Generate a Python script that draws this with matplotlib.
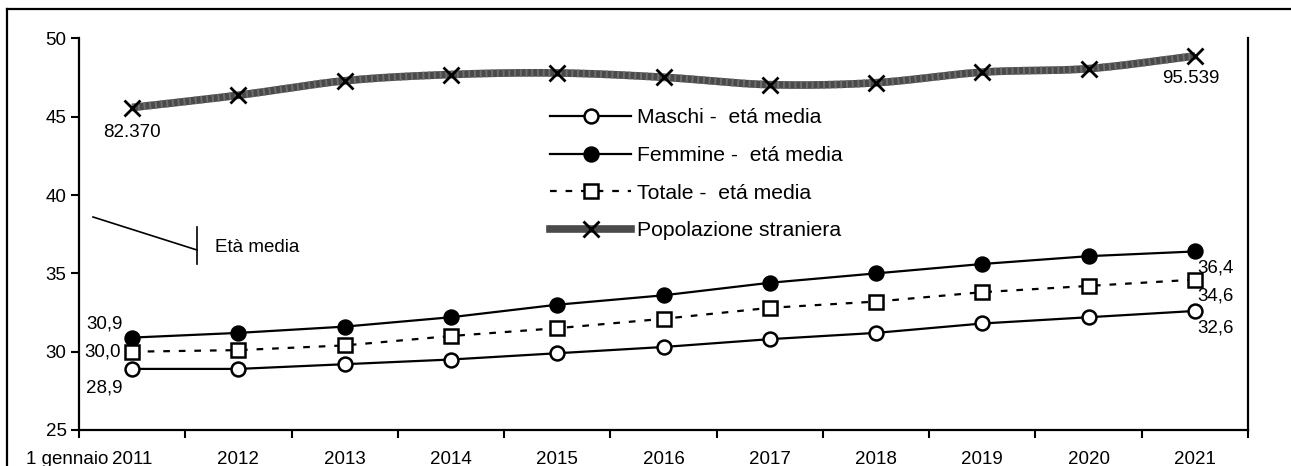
import matplotlib.pyplot as plt
import numpy as np
from matplotlib.lines import Line2D

plt.rcParams['font.family'] = ['Liberation Sans', 'DejaVu Sans']

anni = ['2011', '2012', '2013', '2014', '2015', '2016', '2017', '2018', '2019', '2020', '2021']
maschi = [28.9, 28.9, 29.2, 29.5, 29.9, 30.3, 30.8, 31.2, 31.8, 32.2, 32.6]
femmine = [30.9, 31.2, 31.6, 32.2, 33.0, 33.6, 34.4, 35.0, 35.6, 36.1, 36.4]
totale = [30.0, 30.1, 30.4, 31.0, 31.5, 32.1, 32.8, 33.2, 33.8, 34.2, 34.6]
stranieri = [82370, 85500, 89200, 90800, 91200, 90100, 88200, 88700, 91400, 92300, 95539]


def smooth(x, y, n=20):
    # Catmull-Rom curve through the points, like a smoothed spreadsheet line
    x = np.asarray(x, float)
    y = np.asarray(y, float)
    px = np.concatenate([[2 * x[0] - x[1]], x, [2 * x[-1] - x[-2]]])
    py = np.concatenate([[2 * y[0] - y[1]], y, [2 * y[-1] - y[-2]]])
    t = np.linspace(0, 1, n)
    xs, ys = [], []
    for i in range(1, len(px) - 2):
        for p, out in ((px, xs), (py, ys)):
            p0, p1, p2, p3 = p[i - 1], p[i], p[i + 1], p[i + 2]
            out.extend(0.5 * (2 * p1 + (-p0 + p2) * t + (2 * p0 - 5 * p1 + 4 * p2 - p3) * t ** 2
                              + (-p0 + 3 * p1 - 3 * p2 + p3) * t ** 3))
    return np.array(xs), np.array(ys)


fmt = lambda v: f'{v:.1f}'.replace('.', ',')
fmt_pop = lambda v: f'{v:,}'.replace(',', '.')
fs = 13.5

fig = plt.figure(figsize=(12.91, 4.66), dpi=100)
ax = fig.add_axes([0.0612, 0.0773, 0.9055, 0.8401])
ax2 = ax.twinx()
x = np.arange(len(anni))

ax.plot(x, maschi, color='black', lw=1.6, marker='o', ms=10, mfc='white', mec='black', mew=1.8,
        label='Maschi -  etá media', zorder=4)
ax.plot(x, femmine, color='black', lw=1.6, marker='o', ms=10, mfc='black', mec='black', mew=1.8,
        label='Femmine -  etá media', zorder=4)
ax.plot(x, totale, color='black', lw=1.6, ls=(0, (3, 4)), marker='s', ms=10, mfc='white', mec='black',
        mew=1.8, label='Totale -  etá media', zorder=4)

# population on the hidden secondary scale
sx, sy = smooth(x, stranieri)
ax2.plot(sx, sy, color='#4a4a4a', lw=5.5, solid_capstyle='butt', zorder=2)
ax2.plot(sx, sy, color='#6e6e6e', lw=5.5, ls=(0, (0.25, 0.5)), solid_capstyle='butt', zorder=2)
ax2.plot(x, stranieri, ls='none', marker='x', ms=12, mec='black', mew=2, zorder=3)

ax2.annotate(fmt_pop(stranieri[0]), (x[0], stranieri[0]), xytext=(0, -18), textcoords='offset points',
             ha='center', va='center', fontsize=fs)
ax2.annotate(fmt_pop(stranieri[-1]), (x[-1], stranieri[-1]), xytext=(-3, -16), textcoords='offset points',
             ha='center', va='center', fontsize=fs)

ax.annotate(fmt(femmine[0]), (x[0], femmine[0]), xytext=(-7, 10), textcoords='offset points',
            ha='right', va='center', fontsize=fs)
ax.annotate(fmt(totale[0]), (x[0], totale[0]), xytext=(-8, 0), textcoords='offset points',
            ha='right', va='center', fontsize=fs)
ax.annotate(fmt(maschi[0]), (x[0], maschi[0]), xytext=(-7, -14), textcoords='offset points',
            ha='right', va='center', fontsize=fs)
for serie in (femmine, totale, maschi):
    ax.annotate(fmt(serie[-1]), (x[-1], serie[-1]), xytext=(2, -12), textcoords='offset points',
                ha='left', va='center', fontsize=fs)

ax.set_xlim(-0.5, len(anni) - 0.5)
ax.set_ylim(25, 50)
ax.set_yticks([25, 30, 35, 40, 45, 50])
ax2.set_ylim(0, 100000)
ax2.set_yticks([])

ax.set_xticks(np.arange(-0.5, len(anni)))
ax.set_xticklabels([])
ax.set_xticks(x, minor=True)
ax.set_xticklabels(anni, minor=True)
ax.tick_params(axis='x', which='major', direction='out', length=6, width=1.5)
ax.tick_params(axis='x', which='minor', length=0, pad=15, labelsize=fs)
ax.tick_params(axis='y', direction='out', length=6, width=1.5, labelsize=fs, pad=3)

for a in (ax, ax2):
    a.spines['top'].set_visible(False)
    for s in ('left', 'bottom', 'right'):
        a.spines[s].set_linewidth(1.6)
ax.spines['right'].set_visible(False)
ax2.spines['left'].set_visible(False)
ax2.spines['bottom'].set_visible(False)

handles, labels = ax.get_legend_handles_labels()
handles.append(Line2D([], [], color='#4a4a4a', lw=5.5, marker='x', ms=12, mec='black', mew=2))
labels.append('Popolazione straniera')
ax.legend(handles, labels, loc='upper left', bbox_to_anchor=(0.387, 0.87), frameon=False,
          fontsize=15.2, handlelength=3.84, handletextpad=0.25, labelspacing=0.88)

fig.text(108 / 1291, 1 - 459 / 466, '1 gennaio', ha='right', va='center', fontsize=fs)

# axis title leader lines
fig.add_artist(Line2D([93 / 1291, 197 / 1291], [1 - 217 / 466, 1 - 250 / 466], color='black', lw=1.2))
fig.add_artist(Line2D([197 / 1291, 197 / 1291], [1 - 227 / 466, 1 - 264 / 466], color='black', lw=1.2))
fig.text(215 / 1291, 1 - 247 / 466, 'Età media', ha='left', va='center', fontsize=fs)

# outer frame
fig.add_artist(Line2D([7 / 1291, 7 / 1291], [0, 1 - 9 / 466], color='black', lw=1.6))
fig.add_artist(Line2D([7 / 1291, 1], [1 - 9 / 466, 1 - 9 / 466], color='black', lw=1.6))

fig.savefig('out.png', dpi=100)
